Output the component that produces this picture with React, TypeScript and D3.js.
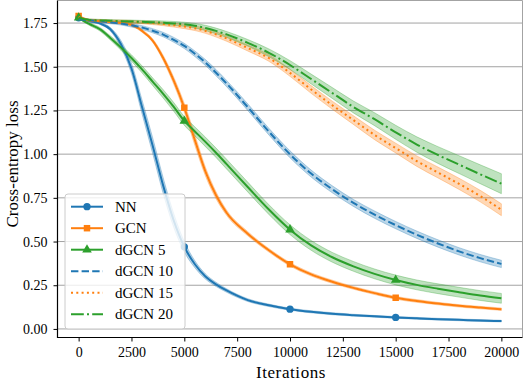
import React, { useEffect, useRef } from "react";
import * as d3 from "d3";

// iteration grid the losses were read at
const iterations = [0, 500, 1000, 1500, 2000, 2500, 3000, 3500, 4000, 4500, 5000, 5500, 6000, 6500, 7000,
  8000, 9000, 10000, 11000, 12000, 13000, 14000, 15000, 16000, 17000, 18000, 19000, 20000];

const nnLoss = [1.78, 1.762, 1.748, 1.715, 1.63, 1.49, 1.27, 1.05, 0.82, 0.62, 0.47, 0.37, 0.3, 0.255, 0.22,
  0.165, 0.135, 0.113, 0.098, 0.087, 0.079, 0.072, 0.066, 0.061, 0.056, 0.052, 0.048, 0.045];
const gcnLoss = [1.79, 1.765, 1.76, 1.756, 1.75, 1.74, 1.705, 1.65, 1.55, 1.42, 1.265, 1.08, 0.9, 0.765, 0.665,
  0.545, 0.45, 0.37, 0.312, 0.27, 0.235, 0.205, 0.178, 0.16, 0.145, 0.132, 0.122, 0.113];
const dgcn5Loss = [1.78, 1.745, 1.715, 1.665, 1.61, 1.55, 1.485, 1.415, 1.345, 1.27, 1.19, 1.13, 1.07, 1.008, 0.943,
  0.812, 0.683, 0.568, 0.478, 0.41, 0.358, 0.315, 0.28, 0.252, 0.23, 0.21, 0.191, 0.175];
const dgcn10Loss = [1.772, 1.766, 1.76, 1.754, 1.748, 1.737, 1.724, 1.706, 1.684, 1.654, 1.619, 1.574, 1.524, 1.466, 1.404,
  1.269, 1.129, 0.999, 0.889, 0.799, 0.721, 0.654, 0.594, 0.539, 0.489, 0.444, 0.405, 0.372];
const dgcn15Loss = [1.785, 1.768, 1.764, 1.762, 1.76, 1.757, 1.754, 1.75, 1.745, 1.738, 1.73, 1.72, 1.705, 1.685, 1.662,
  1.607, 1.55, 1.465, 1.37, 1.28, 1.195, 1.11, 1.035, 0.96, 0.895, 0.83, 0.76, 0.682];
const dgcn20Loss = [1.78, 1.768, 1.765, 1.763, 1.761, 1.759, 1.757, 1.755, 1.752, 1.748, 1.743, 1.735, 1.722, 1.705, 1.685,
  1.637, 1.58, 1.51, 1.43, 1.35, 1.27, 1.2, 1.125, 1.055, 0.995, 0.94, 0.885, 0.831];

// half width of the shaded band around each curve
const nnSpread = [0.005, 0.005, 0.006, 0.01, 0.02, 0.03, 0.04, 0.045, 0.045, 0.04, 0.03, 0.02, 0.015, 0.012, 0.01,
  0.008, 0.007, 0.006, 0.006, 0.006, 0.005, 0.005, 0.005, 0.005, 0.005, 0.005, 0.005, 0.005];
const gcnSpread = [0.005, 0.005, 0.005, 0.005, 0.006, 0.007, 0.008, 0.01, 0.015, 0.02, 0.025, 0.03, 0.025, 0.02, 0.015,
  0.012, 0.01, 0.01, 0.009, 0.009, 0.008, 0.008, 0.008, 0.008, 0.007, 0.007, 0.007, 0.007];
const dgcn5Spread = [0.005, 0.008, 0.01, 0.012, 0.015, 0.018, 0.02, 0.022, 0.024, 0.025, 0.025, 0.026, 0.027, 0.027, 0.028,
  0.028, 0.028, 0.028, 0.028, 0.028, 0.028, 0.028, 0.028, 0.028, 0.028, 0.028, 0.028, 0.028];
const dgcn10Spread = [0.005, 0.006, 0.007, 0.008, 0.009, 0.01, 0.011, 0.012, 0.013, 0.014, 0.015, 0.016, 0.017, 0.018, 0.018,
  0.019, 0.019, 0.02, 0.02, 0.02, 0.02, 0.021, 0.021, 0.021, 0.021, 0.021, 0.021, 0.021];
const dgcn15Spread = [0.005, 0.005, 0.006, 0.006, 0.007, 0.008, 0.008, 0.009, 0.01, 0.011, 0.012, 0.013, 0.014, 0.015, 0.016,
  0.017, 0.019, 0.02, 0.022, 0.023, 0.025, 0.027, 0.028, 0.03, 0.031, 0.032, 0.033, 0.034];
const dgcn20Spread = [0.005, 0.005, 0.006, 0.006, 0.007, 0.008, 0.008, 0.009, 0.01, 0.011, 0.012, 0.013, 0.015, 0.016, 0.017,
  0.019, 0.022, 0.025, 0.028, 0.031, 0.034, 0.037, 0.04, 0.044, 0.048, 0.051, 0.054, 0.057];

const seriesNames = ["NN", "GCN", "dGCN 5", "dGCN 10", "dGCN 15", "dGCN 20"];
const markerIterations = [0, 5000, 10000, 15000];
const xTicks = [0, 2500, 5000, 7500, 10000, 12500, 15000, 17500, 20000];
const yTicks = [0, 0.25, 0.5, 0.75, 1.0, 1.25, 1.5, 1.75];

const blue = "#1f77b4";
const orange = "#ff7f0e";
const green = "#2ca02c";
const font = "Liberation Serif, DejaVu Serif, Times New Roman, serif";

function App() {
  const ref = useRef<SVGSVGElement | null>(null);

  const width = 523;
  const height = 382;
  const left = 57.5, right = 522.5, top = 0.5, bottom = 337.5;

  useEffect(() => draw(), []);

  function draw() {
    const svg = d3.select(ref.current);
    svg.selectAll("*").remove();

    const x = d3.scaleLinear().domain([-1000, 21000]).range([left, right]);
    const y = d3.scaleLinear().domain([-0.049, 1.879]).range([bottom, top]);

    const series = [
      { values: nnLoss, spread: nnSpread, color: blue, dash: null, marker: "circle" },
      { values: gcnLoss, spread: gcnSpread, color: orange, dash: null, marker: "square" },
      { values: dgcn5Loss, spread: dgcn5Spread, color: green, dash: null, marker: "triangle" },
      { values: dgcn10Loss, spread: dgcn10Spread, color: blue, dash: "7.4,3.2", marker: null },
      { values: dgcn15Loss, spread: dgcn15Spread, color: orange, dash: "2,3.3", marker: null },
      { values: dgcn20Loss, spread: dgcn20Spread, color: green, dash: "12.8,3.2,2,3.2", marker: null },
    ].map((s, i) => ({ ...s, name: seriesNames[i] }));

    svg.append("defs").append("clipPath").attr("id", "plot-clip")
      .append("rect").attr("x", left).attr("y", top).attr("width", right - left).attr("height", bottom - top);

    // horizontal grid
    svg.append("g").selectAll("line").data(yTicks).enter().append("line")
      .attr("x1", left).attr("x2", right)
      .attr("y1", (d) => y(d)).attr("y2", (d) => y(d))
      .attr("stroke", "#a3a3a3").attr("stroke-width", 1);

    const plot = svg.append("g").attr("clip-path", "url(#plot-clip)");

    const area = d3.area<number>()
      .x((_, i) => x(iterations[i]))
      .curve(d3.curveMonotoneX);
    const line = d3.line<number>()
      .x((_, i) => x(iterations[i]))
      .y((d) => y(d))
      .curve(d3.curveMonotoneX);

    series.forEach((s) => {
      plot.append("path")
        .datum(s.values)
        .attr("d", area.y0((d, i) => y(d - s.spread[i])).y1((d, i) => y(d + s.spread[i])))
        .attr("fill", s.color).attr("fill-opacity", 0.3)
        .attr("stroke", s.color).attr("stroke-opacity", 0.3).attr("stroke-width", 1);
    });

    const symbols: Record<string, d3.SymbolType> = {
      circle: d3.symbolCircle,
      square: d3.symbolSquare,
      triangle: d3.symbolTriangle,
    };
    const symbolSize: Record<string, number> = { circle: 42, square: 42, triangle: 40 };

    series.forEach((s) => {
      plot.append("path")
        .datum(s.values)
        .attr("d", line)
        .attr("fill", "none")
        .attr("stroke", s.color)
        .attr("stroke-width", 2)
        .attr("stroke-dasharray", s.dash);
      if (s.marker) {
        plot.append("g").selectAll("path")
          .data(markerIterations)
          .enter().append("path")
          .attr("transform", (it) => `translate(${x(it)},${y(s.values[iterations.indexOf(it)])})`)
          .attr("d", d3.symbol().type(symbols[s.marker]).size(symbolSize[s.marker]))
          .attr("fill", s.color);
      }
    });

    // spines
    svg.append("line").attr("x1", left).attr("x2", right).attr("y1", top).attr("y2", top).attr("stroke", "#a3a3a3");
    svg.append("line").attr("x1", right).attr("x2", right).attr("y1", top).attr("y2", bottom).attr("stroke", "#a3a3a3");
    svg.append("line").attr("x1", left).attr("x2", left).attr("y1", top).attr("y2", bottom + 0.5).attr("stroke", "#000").attr("stroke-width", 1.2);
    svg.append("line").attr("x1", left - 0.5).attr("x2", right).attr("y1", bottom).attr("y2", bottom).attr("stroke", "#000").attr("stroke-width", 1.2);

    const xAxis = svg.append("g")
      .attr("transform", `translate(0,${bottom})`)
      .call(d3.axisBottom(x).tickValues(xTicks).tickSize(4).tickPadding(6).tickFormat(d3.format("d")));
    const yAxis = svg.append("g")
      .attr("transform", `translate(${left},0)`)
      .call(d3.axisLeft(y).tickValues(yTicks).tickSize(4).tickPadding(6).tickFormat(d3.format(".2f")));
    [xAxis, yAxis].forEach((a) => {
      a.attr("font-family", null).attr("font-size", null);
      a.select(".domain").remove();
      a.selectAll("text").style("font-family", font).style("font-size", "14px").attr("fill", "#000");
      a.selectAll("line").attr("stroke", "#000");
    });

    svg.append("text")
      .attr("x", (left + right) / 2 + 1).attr("y", 378)
      .attr("text-anchor", "middle")
      .style("font-family", font).style("font-size", "17px").attr("letter-spacing", 0.6)
      .text("Iterations");
    svg.append("text")
      .attr("transform", "translate(18,164) rotate(-90)")
      .attr("text-anchor", "middle")
      .style("font-family", font).style("font-size", "17px")
      .text("Cross-entropy loss");

    // legend
    const lg = svg.append("g").attr("transform", "translate(65,194)");
    lg.append("rect")
      .attr("width", 120).attr("height", 135).attr("rx", 3)
      .attr("fill", "#fff").attr("fill-opacity", 0.8)
      .attr("stroke", "#ccc").attr("stroke-width", 1);
    series.forEach((s, i) => {
      const row = lg.append("g").attr("transform", `translate(0,${12.7 + i * 21.5})`);
      row.append("line")
        .attr("x1", 6).attr("x2", 38)
        .attr("stroke", s.color).attr("stroke-width", 2)
        .attr("stroke-dasharray", s.dash);
      if (s.marker) {
        row.append("path")
          .attr("transform", "translate(22,0)")
          .attr("d", d3.symbol().type(symbols[s.marker]).size(symbolSize[s.marker]))
          .attr("fill", s.color);
      }
      row.append("text")
        .attr("x", 50).attr("y", 5)
        .style("font-family", font).style("font-size", "15px")
        .text(s.name);
    });
  }

  return (
    <svg
      ref={ref}
      width={width}
      height={height}
      style={{ position: "absolute", left: 0, top: 0, background: "#fff" }}
    />
  );
}

export default App;
